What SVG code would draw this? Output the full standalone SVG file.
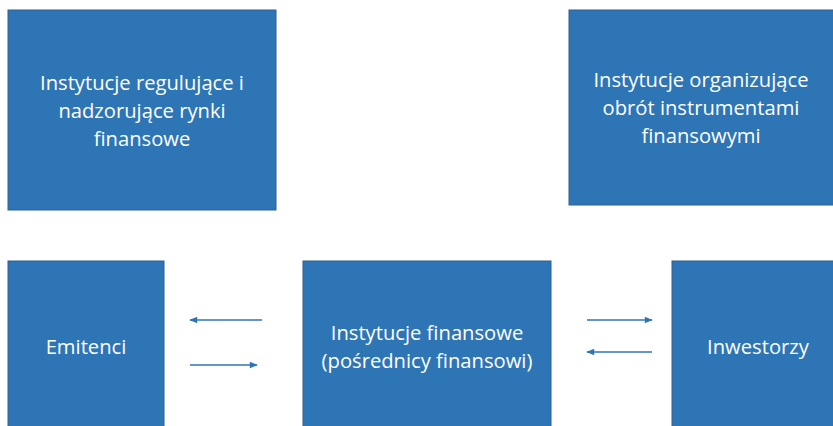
<svg xmlns="http://www.w3.org/2000/svg" width="833" height="426" viewBox="0 0 833 426">
<style>
.box{fill:#2E75B6;stroke:#2F5F8F;stroke-width:1}
.t{font-family:"Open Sans","Noto Sans","Liberation Sans",sans-serif;font-size:20.2px;fill:#FFFFFF;text-anchor:middle}
.c{stroke:#2E75B6;stroke-width:1.3;fill:none;marker-end:url(#ah)}
</style>
<defs>
<marker id="ah" viewBox="0 0 10 10" refX="9" refY="5" markerWidth="9" markerHeight="8" markerUnits="userSpaceOnUse" orient="auto">
<path d="M0,1 L10,5 L0,9 Z" fill="#2E75B6"/>
</marker>
</defs>
<rect width="833" height="426" fill="#FFFFFF"/>
<g id="regulators">
<rect class="box" x="8" y="10" width="268" height="200"/>
<text class="t" x="142" y="90">Instytucje regulujące i</text>
<text class="t" x="142" y="118">nadzorujące rynki</text>
<text class="t" x="142" y="146">finansowe</text>
</g>
<g id="organizers">
<rect class="box" x="569" y="10" width="270" height="195"/>
<text class="t" x="701" y="87">Instytucje organizujące</text>
<text class="t" x="701" y="115">obrót instrumentami</text>
<text class="t" x="701" y="143">finansowymi</text>
</g>
<g id="emitenci">
<rect class="box" x="8" y="261" width="156" height="170"/>
<text class="t" x="86" y="354">Emitenci</text>
</g>
<g id="intermediaries">
<rect class="box" x="303" y="261" width="248" height="170"/>
<text class="t" x="427" y="340">Instytucje finansowe</text>
<text class="t" x="427" y="368">(pośrednicy finansowi)</text>
</g>
<g id="inwestorzy">
<rect class="box" x="672" y="261" width="170" height="170"/>
<text class="t" x="758" y="354">Inwestorzy</text>
</g>
<g id="connectors">
<line class="c" x1="262" y1="320" x2="190" y2="320"/>
<line class="c" x1="190" y1="365" x2="257" y2="365"/>
<line class="c" x1="587" y1="320" x2="652" y2="320"/>
<line class="c" x1="652" y1="352" x2="587" y2="352"/>
</g>
</svg>
